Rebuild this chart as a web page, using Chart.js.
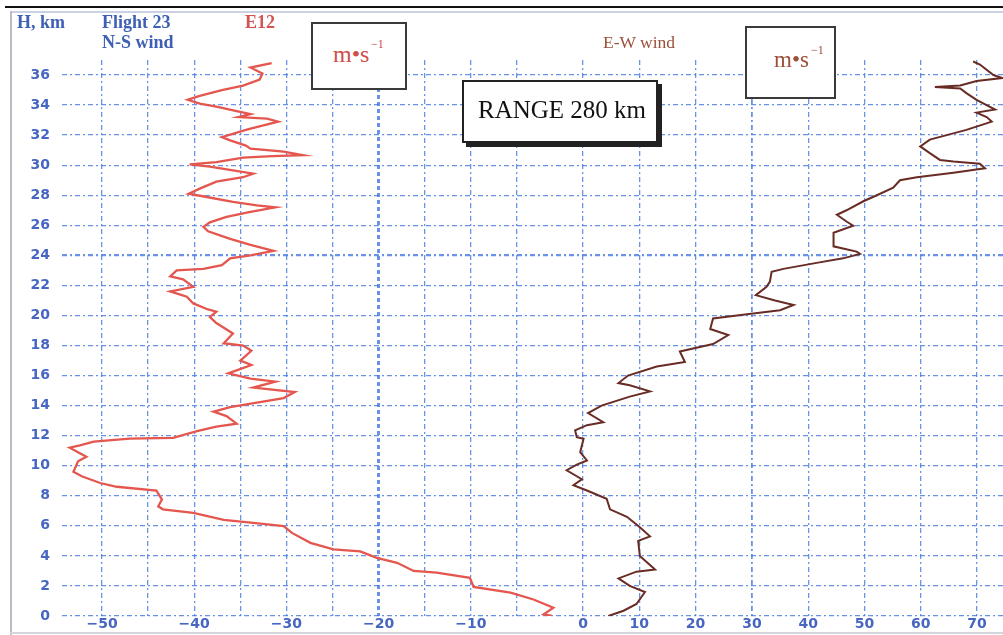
<!DOCTYPE html>
<html><head><meta charset="utf-8">
<script src="https://cdn.jsdelivr.net/npm/chart.js@4.4.1/dist/chart.umd.min.js"></script>
<style>
html,body{margin:0;padding:0;background:#fff;}
#wrap{position:relative;width:1003px;height:635px;overflow:hidden;background:#fff;}
#wrap canvas{position:absolute;left:0;top:0;}
.t{position:absolute;white-space:nowrap;font-family:"Liberation Serif","Times New Roman",serif;line-height:1;}
.b{font-weight:bold;}
.box{position:absolute;box-sizing:border-box;border:2px solid #3a3a3a;background:#fff;}
.ln{position:absolute;}
</style></head><body>
<div id="wrap">
<canvas id="c" width="1003" height="635"></canvas>
<div class="ln" style="left:5px;top:6px;width:998px;height:2px;background:#111;"></div>
<div class="ln" style="left:10px;top:11px;width:993px;height:2px;background:#c9d1e2;"></div>
<div class="ln" style="left:10px;top:11px;width:2px;height:624px;background:#b9bcc4;"></div>
<div class="ln" style="left:10px;top:632px;width:993px;height:2px;background:#d4d6dc;"></div>

<div class="t b" style="left:17px;top:13px;font-size:18px;color:#3d5fb4;">H, km</div>
<div class="t b" style="left:102px;top:13px;font-size:18px;color:#3d5fb4;">Flight 23</div>
<div class="t b" style="left:102px;top:33px;font-size:18px;color:#3d5fb4;">N-S wind</div>
<div class="t b" style="left:245px;top:13px;font-size:18px;color:#d4524f;">E12</div>
<div class="t" style="left:603px;top:34px;font-size:17.5px;color:#9b5038;">E-W wind</div>

<div class="box" style="left:311px;top:22px;width:96px;height:68px;"></div>
<div class="t" style="left:333px;top:42px;font-size:24px;color:#cf4d4a;">m•s</div>
<div class="t" style="left:371px;top:38px;font-size:12px;color:#cf4d4a;">−1</div>

<div class="box" style="left:745px;top:26px;width:91px;height:73px;"></div>
<div class="t" style="left:774px;top:48px;font-size:23px;color:#9b5038;">m•s</div>
<div class="t" style="left:811px;top:44px;font-size:12px;color:#9b5038;">−1</div>

<div class="box" style="left:462px;top:80px;width:196px;height:63px;border-color:#222;box-shadow:4px 4px 0 #222;"></div>
<div class="t" style="left:478px;top:97px;font-size:25px;color:#111;">RANGE 280 km</div>
</div>
<script>
// ---- data ----
// N-S wind (red), height in km and speed in m/s
const nsHeight = [36.8,36.5,36.1,35.7,35.3,35.0,34.6,34.35,34.1,33.9,33.6,33.4,33.2,33.1,32.9,32.65,32.36,31.87,31.65,31.3,31.1,30.9,30.66,30.6,30.5,30.2,30.06,29.9,29.65,29.44,29.2,28.9,28.44,28.1,27.9,27.56,27.33,27.2,26.9,26.56,26.2,25.9,25.6,25.1,24.7,24.3,24.0,23.8,23.35,23.1,23.0,22.6,22.4,21.9,21.6,21.25,20.8,20.4,20.25,19.9,19.5,18.8,18.15,18.0,17.65,17.0,16.7,16.15,15.8,15.6,15.2,14.9,14.5,14.2,13.9,13.6,13.3,12.8,12.6,12.3,11.85,11.8,11.6,11.35,11.2,10.6,10.3,9.6,9.3,8.85,8.6,8.35,7.75,7.3,7.1,6.86,6.4,6.2,5.98,5.53,4.87,4.43,4.3,3.87,3.54,3.0,2.88,2.54,1.93,1.55,1.1,0.55,0.11,0.0];
const nsSpeed  = [-31.6,-33.9,-32.6,-32.9,-34.7,-37.0,-39.5,-40.7,-39.4,-37.6,-35.4,-33.9,-35.2,-32.1,-30.9,-32.5,-34.3,-37.0,-36.1,-34.4,-33.9,-30.3,-28.2,-31.5,-34.7,-37.6,-40.5,-38.3,-35.8,-33.6,-34.7,-37.6,-39.4,-40.6,-38.8,-35.8,-33.2,-31.2,-33.9,-36.5,-38.3,-39.0,-38.5,-36.1,-33.9,-31.4,-33.9,-36.1,-37.0,-39.0,-41.9,-42.6,-41.2,-40.1,-42.6,-40.8,-40.1,-38.5,-37.6,-38.3,-37.6,-35.8,-36.8,-34.7,-33.8,-35.0,-33.8,-36.3,-33.9,-31.2,-33.6,-29.1,-30.3,-33.2,-36.1,-37.9,-36.5,-35.4,-37.6,-39.7,-42.3,-47.0,-50.9,-52.4,-53.5,-51.7,-52.6,-53.1,-52.2,-50.2,-48.4,-44.1,-43.5,-43.9,-43.4,-40.1,-36.8,-33.6,-30.3,-29.4,-27.4,-24.9,-22.0,-20.2,-18.0,-16.2,-13.7,-10.1,-9.7,-5.7,-3.2,-1.05,-2.1,-1.2];
// E-W wind (brown)
const ewHeight = [36.9,36.7,36.0,35.8,35.6,35.3,35.2,35.1,34.8,34.35,33.7,33.5,33.2,32.9,32.35,32.0,31.7,31.25,30.8,30.35,30.25,30.1,29.8,29.5,29.2,29.0,28.5,28.0,27.6,27.0,26.7,26.25,25.97,25.5,24.6,24.25,24.1,23.8,23.5,23.1,22.9,22.25,21.9,21.35,21.0,20.7,20.35,20.1,19.8,19.1,18.7,18.1,17.6,16.9,16.6,16.0,15.5,15.35,14.95,14.6,14.0,13.5,12.9,12.7,12.35,11.9,11.8,10.9,10.35,10.07,9.7,9.1,8.7,8.35,7.8,7.1,6.6,5.9,5.3,5.0,4.0,3.1,2.95,2.5,2.0,1.6,0.8,0.35,0.0];
const ewSpeed  = [69.3,70.5,72.9,74.4,69.9,67.0,62.5,67.0,68.1,69.9,73.2,69.9,71.7,72.6,68.1,64.6,61.6,59.9,61.6,63.4,65.8,70.5,71.4,65.8,59.3,56.3,55.1,52.2,49.8,46.8,45.1,46.8,48.0,44.5,44.5,48.6,49.2,46.2,41.5,35.6,33.5,33.2,32.6,30.7,34.1,37.4,35.0,29.5,23.1,22.6,25.8,23.1,17.2,18.1,13.1,8.0,6.3,8.3,11.9,8.3,3.3,0.9,3.6,0.7,-1.4,-1.1,0.1,-0.5,0.7,-1.1,-2.9,-0.2,-1.7,0.7,4.2,4.8,7.8,10.1,11.9,9.8,10.1,12.8,9.5,6.3,8.3,11.0,9.5,7.2,4.5];
// tick values
const yTicks = [0,2,4,6,8,10,12,14,16,18,20,22,24,26,28,30,32,34,36];
const nsGridTicks = [-50,-45,-40,-35,-30,-25,-20,-15,-10,-5];
const nsLabelTicks = [-50,-40,-30,-20,-10];
const ewTicks = [0,10,20,30,40,50,60,70];

const nsPoints = nsHeight.map((h,i)=>({x:nsSpeed[i], y:h}));
const ewPoints = ewHeight.map((h,i)=>({x:ewSpeed[i], y:h}));

const gridColor = 'rgba(72,122,228,0.82)';
const tickColor = '#4766c2';
const tickFont = {family:'DejaVu Sans', weight:'bold', size:14};
const dash = [5,3,2,3];
function noPad(s){ s.paddingTop=0; s.paddingBottom=0; s.paddingLeft=0; s.paddingRight=0; }

new Chart(document.getElementById('c'), {
  type: 'scatter',
  data: { datasets: [
    { label:'N-S wind', data: nsPoints, xAxisID:'x', yAxisID:'y', showLine:true,
      borderColor:'rgb(228,86,78)', borderWidth:2.3, pointRadius:0, tension:0 },
    { label:'E-W wind', data: ewPoints, xAxisID:'x2', yAxisID:'y', showLine:true,
      borderColor:'rgb(104,44,36)', borderWidth:2, pointRadius:0, tension:0 }
  ]},
  options: {
    responsive:false, animation:false, devicePixelRatio:1,
    layout:{ padding:{ top:60, left:0, right:0, bottom:0 } },
    plugins:{ legend:{display:false}, tooltip:{enabled:false} },
    scales:{
      y:{ type:'linear', position:'left', min:0, max:37,
        afterFit:s=>{ s.width=62; noPad(s); },
        afterBuildTicks:s=>{ s.ticks = yTicks.map(v=>({value:v})); },
        grid:{ color:gridColor, drawTicks:false, lineWidth:c=>(c.tick && c.tick.value===24)?2.2:1.3 },
        border:{ display:false, dash:dash },
        ticks:{ color:tickColor, font:tickFont, padding:12, autoSkip:false }
      },
      x:{ type:'linear', position:'bottom', min:-54.34, max:47.72,
        afterFit:s=>{ s.height=19; noPad(s); },
        afterBuildTicks:s=>{ s.ticks = nsGridTicks.map(v=>({value:v})); },
        grid:{ color:gridColor, drawTicks:false, lineWidth:c=>(c.tick && c.tick.value===-20)?3:1.3 },
        border:{ display:false, dash:c=>(c.tick && c.tick.value===-20)?[4,3]:dash },
        ticks:{ color:tickColor, font:tickFont, padding:0, autoSkip:false, maxRotation:0,
          callback:v=> nsLabelTicks.includes(v) ? '\u2212'+Math.abs(v) : '' }
      },
      x2:{ type:'linear', position:{y:0}, min:-92.54, max:74.6,
        afterFit:s=>{ s.height=0; noPad(s); },
        afterBuildTicks:s=>{ s.ticks = ewTicks.map(v=>({value:v})); },
        grid:{ color:gridColor, drawTicks:false, lineWidth:c=>(c.tick && c.tick.value===30)?1.8:1.3 },
        border:{ display:false, dash:dash },
        ticks:{ color:tickColor, font:tickFont, padding:0, autoSkip:false, maxRotation:0,
          callback:v=> String(v) }
      }
    }
  }
});
</script>
</body></html>
